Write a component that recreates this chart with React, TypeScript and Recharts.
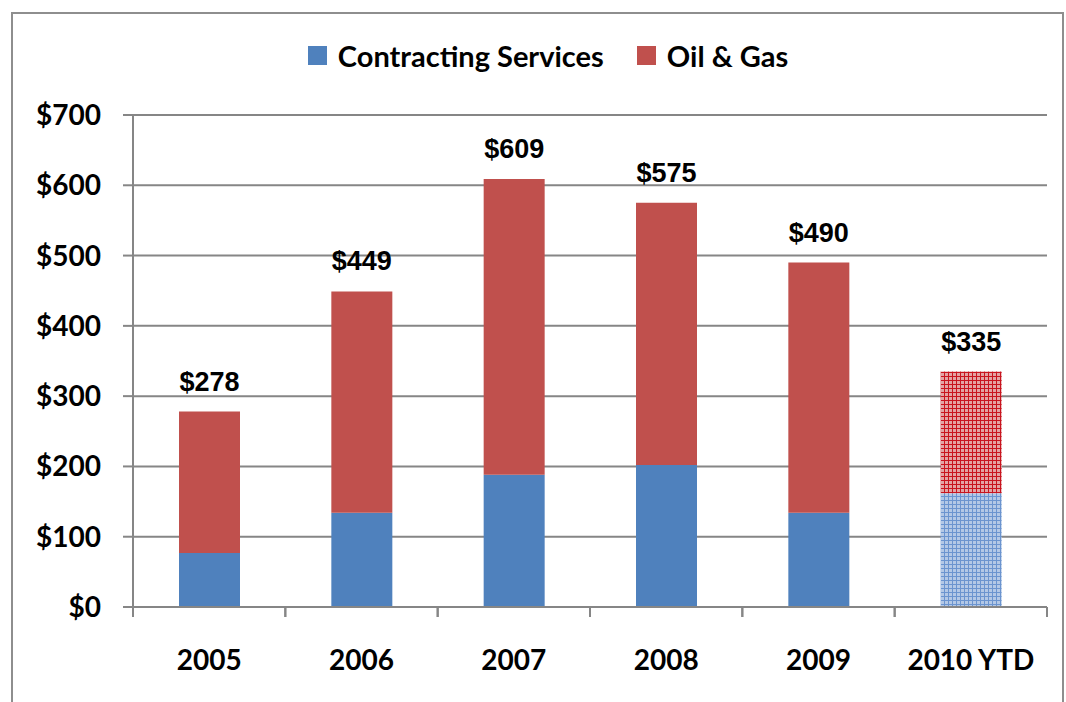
import { Bar, BarChart, CartesianGrid, Cell, LabelList, Legend, XAxis, YAxis } from 'recharts';

const years = ['2005', '2006', '2007', '2008', '2009', '2010 YTD'];
const contracting = [77, 134, 188, 202, 134, 162];
const oilGas = [201, 315, 421, 373, 356, 173];
const totals = [278, 449, 609, 575, 490, 335];
const partialYear = [false, false, false, false, false, true];
const yTicks = [0, 100, 200, 300, 400, 500, 600, 700];

const data = years.map((year, i) => ({
  year,
  contracting: contracting[i],
  oilGas: oilGas[i],
  total: totals[i],
}));

const blue = '#4F81BD';
const red = '#C0504D';
const gridColor = '#868686';
const labelFont = 'Lato, "Noto Sans", sans-serif';

function XTick(props: any) {
  const { x, y, payload } = props;
  const half = payload?.offset || 76;
  return (
    <g>
      <line x1={x - half} x2={x - half} y1={y} y2={y + 10} stroke={gridColor} strokeWidth={2} />
      <line x1={x + half} x2={x + half} y1={y} y2={y + 10} stroke={gridColor} strokeWidth={2} />
      <text x={x} y={y + 63} textAnchor="middle" fontFamily={labelFont} fontWeight={700} fontSize={28} fill="#000">
        {payload.value}
      </text>
    </g>
  );
}

function LegendContent(props: any) {
  const items = props.payload || [];
  return (
    <div style={{ display: 'flex', justifyContent: 'center', alignItems: 'center', height: 40, paddingLeft: 30, fontFamily: labelFont, fontWeight: 700, fontSize: 29 }}>
      {items.map((item: any, i: number) => (
        <div key={i} style={{ display: 'flex', alignItems: 'center', marginLeft: i ? 33 : 0 }}>
          <span style={{ width: 19, height: 19, background: item.color, marginRight: 11, display: 'inline-block' }} />
          <span>{item.value}</span>
        </div>
      ))}
    </div>
  );
}

export default function App() {
  return (
    <div style={{ position: 'absolute', left: 0, top: 0, width: 1066, height: 702, overflow: 'hidden', background: '#fff' }}>
      <div style={{ position: 'absolute', left: 11, top: 12, width: 1053, height: 720, border: '2px solid #8e8e8e', boxSizing: 'border-box' }} />
      <BarChart
        width={1066}
        height={702}
        data={data}
        margin={{ top: 75, right: 19, left: 0, bottom: 35 }}
        style={{ position: 'absolute', left: 0, top: 0 }}
      >
        <defs>
          <pattern id="blueGrid" width="4" height="4" patternUnits="userSpaceOnUse">
            <rect width="4" height="4" fill="#b3c8e6" />
            <path d="M0 0.5H4M0.5 0V4" stroke="#6b94cf" strokeWidth={1} />
          </pattern>
          <pattern id="redGrid" width="4" height="4" patternUnits="userSpaceOnUse">
            <rect width="4" height="4" fill="#e3a3a3" />
            <path d="M0 0.5H4M0.5 0V4" stroke="#c8141e" strokeWidth={1} />
          </pattern>
        </defs>
        <CartesianGrid vertical={false} stroke={gridColor} strokeWidth={2} />
        <XAxis
          dataKey="year"
          height={60}
          tickSize={0}
          tickMargin={0}
          tick={<XTick />}
          axisLine={{ stroke: gridColor, strokeWidth: 2 }}
          interval={0}
        />
        <YAxis
          width={133}
          domain={[0, 700]}
          ticks={yTicks}
          tickSize={10}
          tickMargin={22}
          tickFormatter={(v) => `$${v}`}
          tick={{ fontFamily: labelFont, fontWeight: 700, fontSize: 28, fill: '#000' }}
          axisLine={{ stroke: gridColor, strokeWidth: 2 }}
          tickLine={{ stroke: gridColor, strokeWidth: 2 }}
        />
        <Legend verticalAlign="top" content={<LegendContent />} wrapperStyle={{ top: 35, left: 0, width: 1066 }} />
        <Bar dataKey="contracting" name="Contracting Services" stackId="a" fill={blue} barSize={61} isAnimationActive={false}>
          {data.map((_, i) => (
            <Cell key={i} fill={partialYear[i] ? 'url(#blueGrid)' : blue} />
          ))}
        </Bar>
        <Bar dataKey="oilGas" name="Oil & Gas" stackId="a" fill={red} barSize={61} isAnimationActive={false}>
          {data.map((_, i) => (
            <Cell key={i} fill={partialYear[i] ? 'url(#redGrid)' : red} />
          ))}
          <LabelList
            dataKey="total"
            position="top"
            offset={21}
            formatter={(v: any) => `$${v}`}
            style={{ fontFamily: '"Liberation Sans", Arial, sans-serif', fontWeight: 700, fontSize: 27, fill: '#000' }}
          />
        </Bar>
      </BarChart>
    </div>
  );
}
